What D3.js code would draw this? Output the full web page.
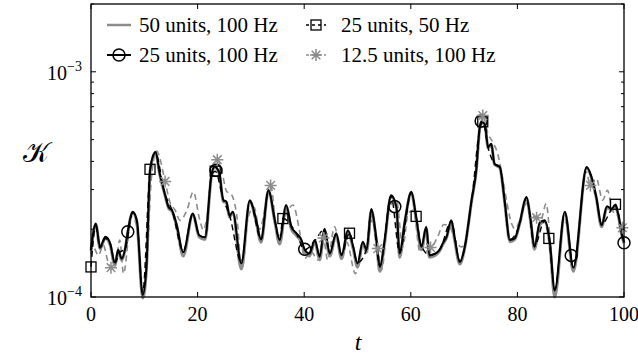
<!DOCTYPE html>
<html>
<head>
<meta charset="utf-8">
<script src="https://cdn.jsdelivr.net/npm/d3@7"></script>
<style>
  body { margin: 0; background: #fff; }
</style>
</head>
<body>
<div id="chart"></div>
<script>
// values are K in units of 1e-4

// 25 units, 100 Hz (black solid, circles)
var t25 = [0, 0.9, 1.7, 2.7, 3.6, 4.5, 5.1, 5.75, 6.4, 6.9, 7.8, 8.6, 9.7, 10.4, 11.1, 12.1, 12.9, 13.8, 14.6, 15.2,
  16.1, 17.3, 19.1, 20.3, 21.4, 22.6, 23.2, 24.1, 24.8, 25.4, 26, 26.6, 28.2, 29.8, 31, 31.9, 33.3, 34.5, 35.4, 36.6,
  37.6, 38.5, 39.5, 40.1, 41, 42, 42.9, 43.8, 44.8, 46, 47, 48.2, 49.2, 50, 51, 51.7, 52.6, 53.5, 54.2, 55.1,
  56.3, 57.3, 57.9, 58.9, 60.1, 61, 62, 62.9, 63.5, 64.4, 65.4, 66, 66.7, 67.6, 68.2, 69.2, 70.1, 71.4, 72.3, 72.9,
  73.2, 73.9, 74.5, 75.1, 75.7, 76.7, 77.6, 78.6, 79.5, 80.4, 81.7, 82.5, 83.2, 84.2, 85.1, 86.1, 87, 88.9, 90.5, 93,
  93.9, 94.8, 95.8, 96.8, 97.7, 98.3, 98.9, 99.6, 100];
var k25 = [1.62, 2.12, 1.67, 1.85, 1.73, 1.41, 1.62, 1.48, 1.64, 1.95, 2.39, 2.19, 1.02, 1.36, 3.69, 4.4, 3.53, 2.9, 2.5, 2.43,
  2.08, 1.58, 2.35, 1.88, 1.84, 3.5, 3.8, 3.53, 2.7, 2.65, 2.3, 2.39, 1.41, 2.69, 2.19, 1.8, 2.98, 2.19, 1.79, 2.56,
  2.05, 1.92, 1.79, 1.62, 1.56, 1.79, 1.51, 2.01, 1.56, 1.92, 1.53, 1.98, 1.67, 1.41, 1.76, 1.62, 2.46, 1.85, 1.36, 1.79,
  2.83, 2.51, 1.56, 2.19, 2.93, 2.27, 1.67, 2.05, 1.53, 1.55, 1.62, 1.73, 1.85, 2.19, 1.85, 1.43, 1.66, 2.69, 3.7, 5.6,
  6.0, 5.85, 4.63, 4.79, 3.91, 3.78, 2.69, 1.79, 1.82, 2.12, 2.78, 2.19, 1.67, 2.14, 2.19, 1.75, 1.07, 2.39, 1.35, 3.78,
  3.41, 2.78, 2.08, 2.53, 2.46, 2.56, 2.35, 1.9, 1.75];
var circT = [6.9, 23.45, 40.1, 57, 73.2, 90.1, 100];
var circK = [1.95, 3.65, 1.63, 2.52, 6.05, 1.53, 1.74];

// 50 units, 100 Hz (gray solid)
var t50 = t25;
var k50 = [1.6, 2.1, 1.64, 1.83, 1.7, 1.38, 1.6, 1.46, 1.62, 1.93, 2.37, 2.15, 0.99, 1.33, 3.65, 4.38, 3.5, 2.88, 2.47, 2.4,
  2.05, 1.52, 2.33, 1.85, 1.8, 3.45, 3.78, 3.5, 2.66, 2.62, 2.26, 2.36, 1.33, 2.66, 2.15, 1.75, 2.96, 2.15, 1.72, 2.53,
  2.0, 1.88, 1.75, 1.58, 1.52, 1.76, 1.46, 1.98, 1.52, 1.89, 1.48, 1.95, 1.63, 1.36, 1.73, 1.58, 2.43, 1.8, 1.3, 1.76,
  2.8, 2.48, 1.5, 2.16, 2.9, 2.23, 1.62, 2.02, 1.5, 1.52, 1.6, 1.71, 1.83, 2.16, 1.8, 1.4, 1.64, 2.66, 3.68, 5.55,
  5.95, 5.8, 4.6, 4.75, 3.88, 3.75, 2.65, 1.76, 1.8, 2.1, 2.75, 2.15, 1.63, 2.1, 2.16, 1.7, 1.0, 2.36, 1.3, 3.75,
  3.38, 2.75, 2.05, 2.5, 2.43, 2.53, 2.32, 1.87, 1.73];

// 25 units, 50 Hz (black dashed, squares)
var t25b = [0, 0.9, 1.7, 2.7, 3.6, 4.5, 5.4, 6.4, 7.8, 8.6, 9.7, 11.1, 12.1, 13.8, 15.2, 17.3, 19.1, 20.3, 21.4, 22.6,
  23.3, 24.8, 26, 28.2, 29.8, 31.9, 33.3, 35.4, 36, 38.5, 40.1, 42, 43.8, 44.8, 46, 47, 48.5, 50, 51.7, 52.6,
  54.2, 56.3, 57.9, 60.1, 61, 62, 63.5, 65.4, 67.6, 69.2, 71.4, 72.9, 73.5, 74.5, 75.7, 76.7, 78.6, 80.4, 81.7, 83.2,
  85.1, 85.9, 87, 88.9, 90.5, 93, 94.8, 95.8, 97.7, 98.4, 99.6, 100];
var k25b = [1.36, 2.05, 1.65, 1.82, 1.72, 1.42, 1.58, 1.63, 2.35, 2.17, 1.05, 3.69, 4.35, 2.9, 2.43, 1.6, 2.33, 1.88, 1.84, 3.45,
  3.62, 2.72, 2.3, 1.43, 2.65, 1.8, 2.95, 1.8, 2.23, 1.92, 1.62, 1.78, 2.0, 1.57, 1.9, 1.55, 1.92, 1.42, 1.63, 2.44,
  1.37, 2.8, 1.57, 2.9, 2.28, 1.68, 1.54, 1.62, 2.17, 1.44, 2.66, 5.5, 6.0, 4.6, 3.9, 3.75, 1.8, 2.1, 2.75, 1.68,
  2.18, 1.82, 1.08, 2.37, 1.36, 3.75, 2.77, 2.1, 2.46, 2.58, 1.92, 1.76];
var sqT = [0, 11.07, 23.3, 36, 48.5, 61, 73.5, 85.9, 98.4];
var sqK = [1.36, 3.69, 3.62, 2.23, 1.92, 2.28, 6.0, 1.82, 2.58];

// 12.5 units, 100 Hz (gray dashed, asterisks)
var t12 = [0, 0.4, 1.4, 2.3, 3.2, 3.75, 4.8, 5.4, 6.1, 7.6, 8.5, 9.7, 10.5, 11.3, 12.3, 13.9, 14.8, 15.8, 16.7, 18,
  19.2, 20.4, 21.1, 22, 23, 23.7, 24.5, 25.5, 26.1, 27.3, 28.3, 29.5, 30.6, 31.6, 33.7, 35.1, 36.3, 37.9, 39.2, 40.1,
  41.2, 42.6, 43.6, 44.4, 45.7, 47, 48, 49.6, 50.7, 51.7, 52.7, 53.8, 54.5, 56, 57.3, 58.5, 59.5, 60.5, 61.7, 62.7,
  63.7, 64.9, 66.2, 67.3, 68.3, 69.5, 70.1, 71.4, 72.4, 73.5, 74.5, 75.3, 76.3, 77.4, 78.9, 79.5, 80.5, 81.7, 82.6, 83.6,
  84.4, 85.4, 86.2, 87, 88.9, 90.5, 92.9, 93.7, 94.8, 96, 96.9, 97.8, 98.7, 99.7];
var k12 = [1.55, 1.67, 1.53, 1.7, 1.43, 1.35, 1.51, 1.79, 1.27, 2.27, 2.1, 1.02, 1.4, 3.3, 4.45, 3.26, 2.64, 2.43, 2.19, 2.43,
  2.93, 2.2, 1.98, 2.51, 3.9, 4.07, 3.65, 2.93, 2.9, 2.35, 1.32, 2.27, 2.5, 2.0, 3.13, 1.79, 2.23, 2.56, 1.92, 1.48,
  1.6, 1.46, 1.83, 1.46, 2.05, 1.48, 1.75, 1.27, 1.56, 1.6, 2.2, 1.64, 1.32, 2.51, 2.69, 1.67, 2.35, 2.43, 1.59, 1.75,
  1.66, 1.82, 2.1, 2.05, 1.8, 1.67, 1.7, 2.6, 3.9, 6.39, 5.3, 4.9, 4.33, 3.2, 2.12, 2.01, 2.2, 2.6, 2.3, 2.25,
  2.2, 2.6, 1.7, 1.0, 2.23, 1.3, 3.6, 3.13, 3.36, 2.69, 2.98, 2.43, 2.31, 2.03];
var astT = [3.75, 13.9, 23.7, 33.7, 43.6, 53.8, 63.7, 73.5, 83.6, 93.7, 99.7];
var astK = [1.35, 3.26, 4.07, 3.13, 1.83, 1.64, 1.66, 6.39, 2.25, 3.13, 2.03];

var xTicks = [0, 20, 40, 60, 80, 100];
var labels = ["50 units, 100 Hz", "25 units, 100 Hz", "25 units, 50 Hz", "12.5 units, 100 Hz"];

var W = 638, H = 358;
var serif = "Liberation Serif";
var x = d3.scaleLinear().domain([0, 100]).range([91, 624]);
var y = d3.scaleLog().domain([1e-4, 2e-3]).range([297, 4]);

var svg = d3.select("#chart").append("svg").attr("width", W).attr("height", H);

function pts(ts, ks) {
  return ts.map(function(t, i) { return [t, ks[i] * 1e-4]; });
}
var line = d3.line()
  .x(function(d) { return x(d[0]); })
  .y(function(d) { return y(d[1]); })
  .curve(d3.curveMonotoneX);

var gray = "#8c8c8c";

svg.append("path").attr("d", line(pts(t50, k50)))
  .attr("fill", "none").attr("stroke", gray).attr("stroke-width", 3);
svg.append("path").attr("d", line(pts(t12, k12)))
  .attr("fill", "none").attr("stroke", gray).attr("stroke-width", 1.6).attr("stroke-dasharray", "6,4");
svg.append("path").attr("d", line(pts(t25b, k25b)))
  .attr("fill", "none").attr("stroke", "#000").attr("stroke-width", 1.4).attr("stroke-dasharray", "6,4");
svg.append("path").attr("d", line(pts(t25, k25)))
  .attr("fill", "none").attr("stroke", "#000").attr("stroke-width", 2);

// markers
function asterisk(g, cx, cy, r) {
  var a = r * 0.72;
  g.append("path")
    .attr("d", "M" + (cx - r) + "," + cy + "H" + (cx + r) +
      "M" + cx + "," + (cy - r) + "V" + (cy + r) +
      "M" + (cx - a) + "," + (cy - a) + "L" + (cx + a) + "," + (cy + a) +
      "M" + (cx - a) + "," + (cy + a) + "L" + (cx + a) + "," + (cy - a))
    .attr("stroke", gray).attr("stroke-width", 1.5).attr("fill", "none");
}
var mk = svg.append("g");
sqT.forEach(function(t, i) {
  mk.append("rect").attr("x", x(t) - 5).attr("y", y(sqK[i] * 1e-4) - 5)
    .attr("width", 10).attr("height", 10)
    .attr("fill", "none").attr("stroke", "#000").attr("stroke-width", 1.3);
});
circT.forEach(function(t, i) {
  mk.append("circle").attr("cx", x(t)).attr("cy", y(circK[i] * 1e-4)).attr("r", 6)
    .attr("fill", "none").attr("stroke", "#000").attr("stroke-width", 1.5);
});
astT.forEach(function(t, i) {
  asterisk(mk, x(t), y(astK[i] * 1e-4), 6);
});

// frame and ticks
var ax = svg.append("g").attr("stroke", "#000").attr("fill", "none");
ax.append("rect").attr("x", 91).attr("y", 4).attr("width", 533).attr("height", 293).attr("stroke-width", 1.3);
xTicks.forEach(function(v) {
  ax.append("line").attr("x1", x(v)).attr("x2", x(v)).attr("y1", 297).attr("y2", 292);
  ax.append("line").attr("x1", x(v)).attr("x2", x(v)).attr("y1", 4).attr("y2", 9);
});
var yTicks = y.ticks();
yTicks.forEach(function(v) {
  var major = Math.abs(Math.log10(v) - Math.round(Math.log10(v))) < 1e-6;
  var len = major ? 5 : 3;
  ax.append("line").attr("x1", 91).attr("x2", 91 + len).attr("y1", y(v)).attr("y2", y(v));
  ax.append("line").attr("x1", 624).attr("x2", 624 - len).attr("y1", y(v)).attr("y2", y(v));
});

// tick labels
svg.selectAll(".xl").data(xTicks).enter().append("text")
  .style("font-family", serif)
  .attr("x", function(d) { return x(d); }).attr("y", 321)
  .attr("text-anchor", "middle").attr("font-size", 20)
  .text(function(d) { return d; });

[-4, -3].forEach(function(e) {
  var t = svg.append("text").style("font-family", serif)
    .attr("x", 82).attr("y", y(Math.pow(10, e)) + 8)
    .attr("text-anchor", "end").attr("font-size", 20);
  t.append("tspan").text("10");
  t.append("tspan").attr("dy", -9).attr("font-size", 14).text("\u2212" + (-e));
});

// axis labels
svg.append("text").style("font-family", serif).attr("x", 36).attr("y", 162).attr("text-anchor", "middle")
  .attr("font-size", 28).text("\ud835\udca6");
svg.append("text").style("font-family", serif).attr("x", 358).attr("y", 350).attr("text-anchor", "middle")
  .attr("font-size", 24).attr("font-style", "italic").text("t");

// legend
var lg = svg.append("g");
var rows = [
  { x: 107, y: 25, lbl: labels[0], kind: "gray" },
  { x: 107, y: 55, lbl: labels[1], kind: "circ" },
  { x: 306, y: 25, lbl: labels[2], kind: "sq" },
  { x: 306, y: 55, lbl: labels[3], kind: "ast" }
];
rows.forEach(function(r) {
  var len = (r.kind == "gray" || r.kind == "circ") ? 24 : 20;
  var l = lg.append("line").attr("x1", r.x).attr("x2", r.x + len).attr("y1", r.y).attr("y2", r.y);
  if (r.kind == "gray") l.attr("stroke", gray).attr("stroke-width", 2.5);
  if (r.kind == "circ") l.attr("stroke", "#000").attr("stroke-width", 2);
  if (r.kind == "sq") l.attr("stroke", "#000").attr("stroke-width", 1.3).attr("stroke-dasharray", "3,3");
  if (r.kind == "ast") l.attr("stroke", gray).attr("stroke-width", 1.5).attr("stroke-dasharray", "3,3");
  var cx = r.x + len / 2;
  if (r.kind == "circ") lg.append("circle").attr("cx", cx).attr("cy", r.y).attr("r", 6)
    .attr("fill", "none").attr("stroke", "#000").attr("stroke-width", 1.5);
  if (r.kind == "sq") lg.append("rect").attr("x", cx - 5).attr("y", r.y - 5).attr("width", 10).attr("height", 10)
    .attr("fill", "none").attr("stroke", "#000").attr("stroke-width", 1.3);
  if (r.kind == "ast") asterisk(lg, cx, r.y, 6);
  lg.append("text").style("font-family", serif)
    .attr("x", r.kind == "gray" || r.kind == "circ" ? 139 : 341).attr("y", r.y + 7)
    .attr("font-size", 21).text(r.lbl);
});
</script>
</body>
</html>
